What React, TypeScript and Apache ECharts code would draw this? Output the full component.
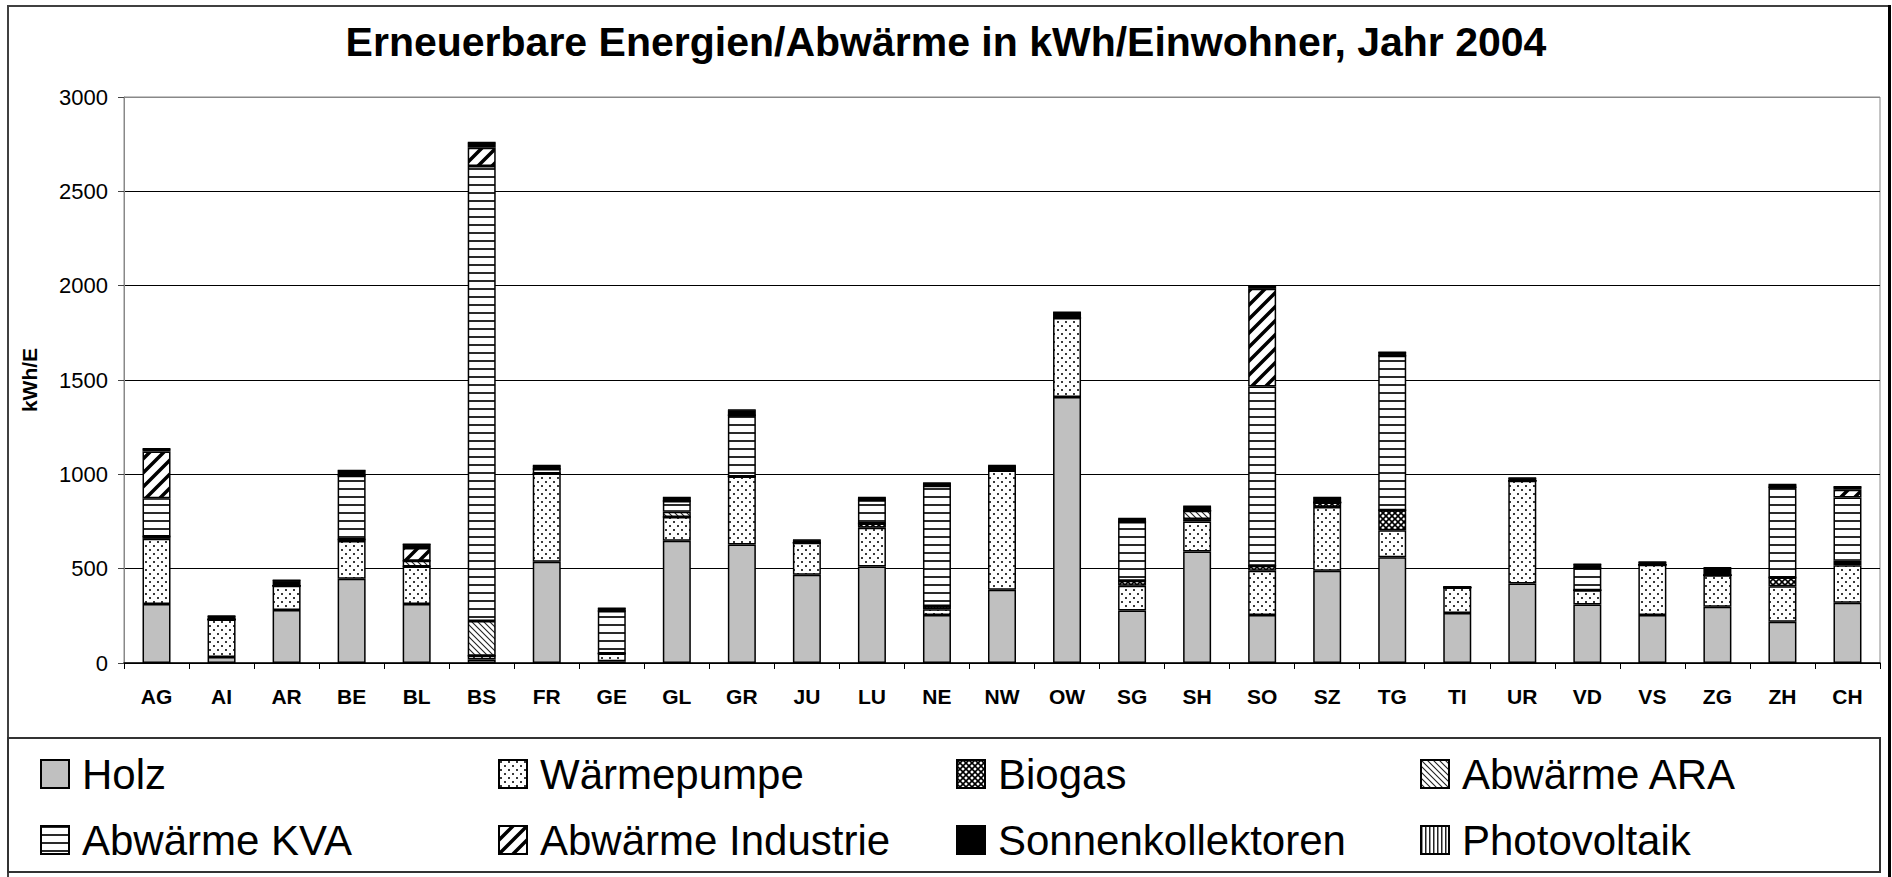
import React, { useEffect, useRef } from "react";
import * as echarts from "echarts";

const categories = ["AG", "AI", "AR", "BE", "BL", "BS", "FR", "GE", "GL", "GR", "JU", "LU", "NE", "NW", "OW", "SG", "SH", "SO", "SZ", "TG", "TI", "UR", "VD", "VS", "ZG", "ZH", "CH"];

const seriesNames = ["Holz", "Wärmepumpe", "Biogas", "Abwärme ARA", "Abwärme KVA", "Abwärme Industrie", "Sonnenkollektoren", "Photovoltaik"];

const holz = [313, 32, 281, 447, 313, 18, 537, 9, 648, 628, 468, 512, 254, 388, 1410, 278, 591, 254, 489, 560, 265, 421, 310, 254, 298, 219, 320];
const waermepumpe = [345, 199, 128, 199, 199, 21, 468, 41, 126, 360, 169, 205, 31, 632, 419, 131, 159, 235, 338, 143, 135, 545, 76, 267, 167, 188, 198];
const biogas = [12, 0, 0, 8, 0, 0, 0, 0, 0, 0, 0, 23, 17, 0, 0, 27, 13, 27, 24, 107, 0, 0, 0, 0, 0, 46, 12];
const abwaermeARA = [0, 0, 0, 0, 30, 183, 0, 0, 28, 0, 0, 0, 0, 0, 0, 0, 44, 0, 0, 0, 0, 0, 0, 0, 0, 0, 12];
const abwaermeKVA = [203, 0, 0, 339, 0, 2412, 23, 226, 57, 325, 0, 123, 638, 0, 0, 311, 0, 950, 0, 819, 0, 0, 118, 0, 0, 478, 335];
const abwaermeIndustrie = [248, 0, 0, 0, 67, 97, 0, 0, 0, 0, 0, 0, 0, 0, 0, 0, 0, 517, 0, 0, 0, 0, 0, 0, 0, 0, 41];
const sonnenkollektoren = [14, 18, 29, 27, 20, 27, 18, 14, 18, 27, 14, 14, 14, 26, 30, 18, 23, 14, 26, 18, 4, 14, 19, 14, 39, 14, 16];
const photovoltaik = [1, 1, 1, 1, 1, 1, 1, 1, 1, 1, 1, 1, 1, 1, 1, 1, 1, 1, 1, 1, 1, 1, 1, 1, 1, 1, 1];

const seriesData = [holz, waermepumpe, biogas, abwaermeARA, abwaermeKVA, abwaermeIndustrie, sonnenkollektoren, photovoltaik];

const legendColumns = [
  ["Holz", "Abwärme KVA"],
  ["Wärmepumpe", "Abwärme Industrie"],
  ["Biogas", "Sonnenkollektoren"],
  ["Abwärme ARA", "Photovoltaik"],
];
const legendLefts = [40, 498, 956, 1420];

const FONT = "'Liberation Sans', Arial, sans-serif";

function tile(w: number, h: number, draw: (ctx: CanvasRenderingContext2D) => void) {
  const c = document.createElement("canvas");
  c.width = w;
  c.height = h;
  const ctx = c.getContext("2d") as CanvasRenderingContext2D;
  ctx.fillStyle = "#ffffff";
  ctx.fillRect(0, 0, w, h);
  draw(ctx);
  return { image: c, repeat: "repeat" };
}

function makeFills(): any[] {
  const dots = tile(8, 8, (ctx) => {
    ctx.fillStyle = "#3a3a3a";
    ctx.fillRect(1, 1, 2, 2);
    ctx.fillRect(5, 5, 2, 2);
  });
  const cross = tile(6, 6, (ctx) => {
    ctx.strokeStyle = "#000";
    ctx.lineWidth = 1.6;
    ctx.beginPath();
    ctx.moveTo(-1, -1); ctx.lineTo(7, 7);
    ctx.moveTo(-1, 7); ctx.lineTo(7, -1);
    ctx.stroke();
  });
  const back = tile(6, 6, (ctx) => {
    ctx.strokeStyle = "#222";
    ctx.lineWidth = 1.1;
    ctx.beginPath();
    ctx.moveTo(-1, -1); ctx.lineTo(7, 7);
    ctx.moveTo(-1, 5); ctx.lineTo(1, 7);
    ctx.moveTo(5, -1); ctx.lineTo(7, 1);
    ctx.stroke();
  });
  const horiz = tile(8, 8, (ctx) => {
    ctx.fillStyle = "#2a2a2a";
    ctx.fillRect(0, 0, 8, 2);
  });
  const fwd = tile(14, 14, (ctx) => {
    ctx.strokeStyle = "#000";
    ctx.lineWidth = 3.5;
    ctx.beginPath();
    ctx.moveTo(-2, 16); ctx.lineTo(16, -2);
    ctx.moveTo(-9, 9); ctx.lineTo(9, -9);
    ctx.moveTo(5, 23); ctx.lineTo(23, 5);
    ctx.stroke();
  });
  const vert = tile(4, 4, (ctx) => {
    ctx.fillStyle = "#222";
    ctx.fillRect(0, 0, 1.5, 4);
  });
  return ["#c0c0c0", dots, cross, back, horiz, fwd, "#000000", vert];
}

export default function App() {
  const ref = useRef<HTMLDivElement>(null);

  useEffect(() => {
    if (!ref.current) return;
    const chart = echarts.init(ref.current, undefined, { renderer: "svg" });
    const fills = makeFills();

    const option: any = {
      animation: false,
      backgroundColor: "#ffffff",
      title: {
        text: "Erneuerbare Energien/Abwärme in kWh/Einwohner, Jahr 2004",
        left: "center",
        top: 16,
        textStyle: { fontFamily: FONT, fontSize: 41, fontWeight: "bold", color: "#000" },
      },
      grid: {
        left: 124,
        right: 12,
        top: 97,
        bottom: 214,
        show: true,
        borderColor: "#888",
        borderWidth: 1,
        backgroundColor: "#fff",
      },
      legend: legendColumns.map((col, ci) => ({
        orient: "vertical",
        left: legendLefts[ci],
        top: 753,
        padding: 0,
        itemWidth: 28,
        itemHeight: 28,
        itemGap: 24,
        icon: "rect",
        selectedMode: false,
        data: col,
        itemStyle: { borderColor: "#000", borderWidth: 2 },
        textStyle: { fontFamily: FONT, fontSize: 42, color: "#000", lineHeight: 36, padding: [0, 0, 0, 8] },
      })),
      xAxis: {
        type: "category",
        data: categories,
        axisLine: { lineStyle: { color: "#000", width: 1.5 } },
        axisTick: { show: true, length: 6, lineStyle: { color: "#000" } },
        axisLabel: { interval: 0, margin: 23, fontFamily: FONT, fontSize: 21, fontWeight: "bold", color: "#000" },
      },
      yAxis: {
        type: "value",
        min: 0,
        max: 3000,
        interval: 500,
        name: "kWh/E",
        nameLocation: "middle",
        nameGap: 84,
        nameRotate: 90,
        nameTextStyle: { fontFamily: FONT, fontSize: 21, fontWeight: "bold", color: "#000" },
        axisLine: { show: true, lineStyle: { color: "#888", width: 1 } },
        axisTick: { show: true, length: 6, lineStyle: { color: "#444" } },
        axisLabel: {
          margin: 16,
          fontFamily: FONT,
          fontSize: 22,
          color: "#000",
          formatter: (v: number) => String(v),
        },
        splitLine: {
          show: true,
          lineStyle: { color: ["#000", "#000", "#000", "#000", "#000", "#000", "#888"], width: 1 },
        },
      },
      series: seriesNames.map((name, i) => ({
        name,
        type: "bar",
        stack: "total",
        data: seriesData[i],
        barWidth: 28,
        emphasis: { disabled: true },
        itemStyle: { color: fills[i], borderColor: "#000", borderWidth: 1.5 },
      })),
      graphic: [
        {
          type: "rect",
          silent: true,
          shape: { x: 8, y: 6, width: 1881, height: 890 },
          style: { fill: "none", stroke: "#404040", lineWidth: 2 },
        },
        {
          type: "line",
          silent: true,
          shape: { x1: 1889.5, y1: 5, x2: 1889.5, y2: 877 },
          style: { stroke: "#000", lineWidth: 3 },
        },
        {
          type: "rect",
          silent: true,
          shape: { x: 8, y: 738, width: 1872, height: 134 },
          style: { fill: "none", stroke: "#333", lineWidth: 2 },
        },
      ],
    };

    chart.setOption(option);
    return () => {
      chart.dispose();
    };
  }, []);

  return (
    <div
      ref={ref}
      style={{ position: "fixed", left: 0, top: 0, width: 1892, height: 877, background: "#fff" }}
    />
  );
}
